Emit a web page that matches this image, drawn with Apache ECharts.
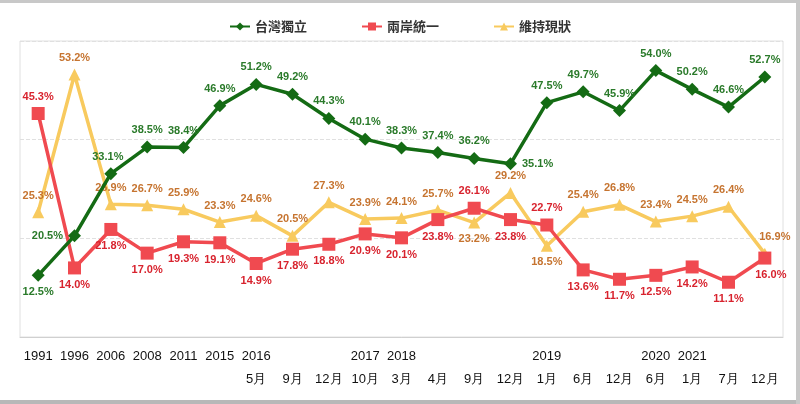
<!DOCTYPE html>
<html><head><meta charset="utf-8">
<script src="https://cdn.jsdelivr.net/npm/echarts@6/dist/echarts.min.js"></script>
<style>html,body{margin:0;padding:0;background:#fff}#c{width:800px;height:404px}</style>
</head><body><div id="c"></div>
<script>
const categories = ['1991','1996','2006','2008','2011','2015','2016\n5月','\n9月','\n12月','2017\n10月','2018\n3月','\n4月','\n9月','\n12月','2019\n1月','\n6月','\n12月','2020\n6月','2021\n1月','\n7月','\n12月'];
const independence = [12.5,20.5,33.1,38.5,38.4,46.9,51.2,49.2,44.3,40.1,38.3,37.4,36.2,35.1,47.5,49.7,45.9,54.0,50.2,46.6,52.7];
const unification = [45.3,14.0,21.8,17.0,19.3,19.1,14.9,17.8,18.8,20.9,20.1,23.8,26.1,23.8,22.7,13.6,11.7,12.5,14.2,11.1,16.0];
const statusQuo = [25.3,53.2,26.9,26.7,25.9,23.3,24.6,20.5,27.3,23.9,24.1,25.7,23.2,29.2,18.5,25.4,26.8,23.4,24.5,26.4,16.9];
const seriesNames = ['台灣獨立','兩岸統一','維持現狀'];

// label placement styles
const posG = {0:'bottom',1:'left',13:'right'};
const posR = {0:'top',12:'top',14:'top'};
const posY = {12:'bottom',14:'bottom'};

function build(vals, map, def, extra) {
  return vals.map((v,i)=>{
    const o = {value:v};
    const p = map[i] || def;
    o.label = {position:p};
    if (extra && extra[i]) Object.assign(o.label, extra[i]);
    return o;
  });
}

const chart = echarts.init(document.getElementById('c'));
const lblBase = {show:true, fontSize:11, fontWeight:'bold', fontFamily:'Arial', distance:5, formatter: p => p.value.toFixed(1)+'%'};
chart.setOption({
  animation:false,
  graphic:[
    {type:'rect', shape:{x:0,y:0,width:800,height:3}, style:{fill:'#c8c8c8'}, silent:true},
    {type:'rect', shape:{x:0,y:400,width:800,height:4}, style:{fill:'#b8b8b8'}, silent:true},
    {type:'rect', shape:{x:796,y:0,width:4,height:404}, style:{fill:'#c8c8c8'}, silent:true}
  ],
  legend:{
    top:15, left:'center', itemGap:54, itemWidth:20, itemHeight:10,
    textStyle:{fontSize:13, fontWeight:'bold', color:'#333', fontFamily:'Noto Sans CJK TC'},
    data:seriesNames
  },
  grid:{left:20, right:17, top:41, bottom:67, show:true, borderColor:'#e0e0e0', borderWidth:1},
  xAxis:{
    type:'category', data:categories, boundaryGap:true,
    axisLine:{lineStyle:{color:'#d0d0d0'}},
    axisTick:{inside:true, length:5, lineStyle:{color:'#bbb'}},
    axisLabel:{color:'#111', fontSize:13, fontFamily:'Arial', lineHeight:23, margin:8, interval:0}
  },
  yAxis:{
    type:'value', min:0, max:60, interval:20,
    axisLabel:{show:false}, axisLine:{show:false}, axisTick:{show:false},
    splitLine:{lineStyle:{color:'#e0e0e0', type:'dashed'}}
  },
  series:[
    {name:seriesNames[0], type:'line', z:3, data:build(independence,posG,'top',{2:{offset:[-3,0]}}),
     symbol:'diamond', symbolSize:13, lineStyle:{width:3.5,color:'#146b14'}, itemStyle:{color:'#146b14'},
     label:Object.assign({},lblBase,{color:'#2a7a2a'})},
    {name:seriesNames[1], type:'line', z:2, data:build(unification,posR,'bottom',{20:{offset:[6,0]}}),
     symbol:'rect', symbolSize:13, lineStyle:{width:3.5,color:'#f04a50'}, itemStyle:{color:'#f04a50'},
     label:Object.assign({},lblBase,{color:'#d8232e'})},
    {name:seriesNames[2], type:'line', z:1, data:build(statusQuo,posY,'top',{20:{offset:[10,0]}}),
     symbol:'triangle', symbolSize:12, lineStyle:{width:3.5,color:'#f8ca5e'}, itemStyle:{color:'#f8ca5e'},
     label:Object.assign({},lblBase,{color:'#c67430'})}
  ]
});
</script></body></html>
